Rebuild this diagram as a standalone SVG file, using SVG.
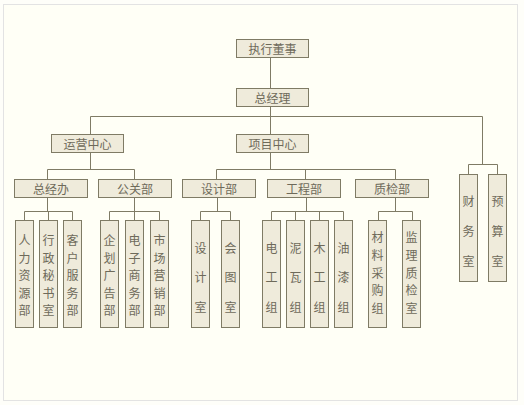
<svg xmlns="http://www.w3.org/2000/svg" width="524" height="405" viewBox="0 0 524 405">
<style>
.b{fill:#efebdb;stroke:#7f7b65;stroke-width:1}
.c{stroke:#7f7b65;stroke-width:1;fill:none}
text{font-family:"Noto Sans CJK SC","Noto Sans",sans-serif;font-size:12px;fill:#6e6a5a;text-anchor:middle;dominant-baseline:central}
</style>
<rect x="0" y="0" width="524" height="405" fill="#fefef9"/>
<rect x="3.5" y="4.5" width="514" height="396" fill="#fffff6" stroke="#e3e3e3"/>
<g id="connectors" class="c">
<path d="M270.5 57.5V88.5M270.5 106.5V134.5M90.5 116.5H482.5M90.5 116.5V134.5M482.5 116.5V164.5"/>
<path d="M90.5 152.5V169.5M47.5 169.5H134.5M47.5 169.5V179.5M134.5 169.5V179.5"/>
<path d="M270.5 152.5V169.5M216.5 169.5H395.5M216.5 169.5V179.5M305.5 169.5V179.5M395.5 169.5V179.5"/>
<path d="M47.5 197.5V211.5M24.5 211.5H72.5M24.5 211.5V220.5M48.5 211.5V220.5M72.5 211.5V220.5"/>
<path d="M134.5 197.5V211.5M109.5 211.5H159.5M109.5 211.5V220.5M134.5 211.5V220.5M159.5 211.5V220.5"/>
<path d="M217.5 197.5V211.5M200.5 211.5H230.5M200.5 211.5V220.5M230.5 211.5V220.5"/>
<path d="M306.5 197.5V211.5M271.5 211.5H343.5M271.5 211.5V220.5M295.5 211.5V220.5M319.5 211.5V220.5M343.5 211.5V220.5"/>
<path d="M395.5 197.5V211.5M378.5 211.5H412.5M378.5 211.5V220.5M412.5 211.5V220.5"/>
<path d="M468.5 164.5H497.5M468.5 164.5V174.5M497.5 164.5V174.5"/>
</g>
<g id="n1"><rect class="b" x="236.5" y="39.5" width="72" height="18"/><text x="272.5" y="48.5">执行董事</text></g>
<g id="n2"><rect class="b" x="236.5" y="88.5" width="72" height="18"/><text x="272.5" y="97.5">总经理</text></g>
<g id="n3"><rect class="b" x="51.5" y="134.5" width="72" height="18"/><text x="87.5" y="143.5">运营中心</text></g>
<g id="n4"><rect class="b" x="236.5" y="134.5" width="72" height="18"/><text x="272.5" y="143.5">项目中心</text></g>
<g id="n5"><rect class="b" x="14.5" y="179.5" width="73" height="18"/><text x="51" y="188.5">总经办</text></g>
<g id="n6"><rect class="b" x="98.5" y="179.5" width="73" height="18"/><text x="135" y="188.5">公关部</text></g>
<g id="n7"><rect class="b" x="182.5" y="179.5" width="73" height="18"/><text x="219" y="188.5">设计部</text></g>
<g id="n8"><rect class="b" x="267.5" y="179.5" width="73" height="18"/><text x="304" y="188.5">工程部</text></g>
<g id="n9"><rect class="b" x="355.5" y="179.5" width="73" height="18"/><text x="392" y="188.5">质检部</text></g>
<g id="n10"><rect class="b" x="15.5" y="220.5" width="18" height="107"/><text x="24.5"><tspan x="24.5" y="239">人</tspan><tspan x="24.5" y="256.5">力</tspan><tspan x="24.5" y="274">资</tspan><tspan x="24.5" y="291.5">源</tspan><tspan x="24.5" y="309">部</tspan></text></g>
<g id="n11"><rect class="b" x="39.5" y="220.5" width="18" height="107"/><text x="48.5"><tspan x="48.5" y="239">行</tspan><tspan x="48.5" y="256.5">政</tspan><tspan x="48.5" y="274">秘</tspan><tspan x="48.5" y="291.5">书</tspan><tspan x="48.5" y="309">室</tspan></text></g>
<g id="n12"><rect class="b" x="63.5" y="220.5" width="18" height="107"/><text x="72.5"><tspan x="72.5" y="239">客</tspan><tspan x="72.5" y="256.5">户</tspan><tspan x="72.5" y="274">服</tspan><tspan x="72.5" y="291.5">务</tspan><tspan x="72.5" y="309">部</tspan></text></g>
<g id="n13"><rect class="b" x="100.5" y="220.5" width="18" height="107"/><text x="109.5"><tspan x="109.5" y="239">企</tspan><tspan x="109.5" y="256.5">划</tspan><tspan x="109.5" y="274">广</tspan><tspan x="109.5" y="291.5">告</tspan><tspan x="109.5" y="309">部</tspan></text></g>
<g id="n14"><rect class="b" x="125.5" y="220.5" width="18" height="107"/><text x="134.5"><tspan x="134.5" y="239">电</tspan><tspan x="134.5" y="256.5">子</tspan><tspan x="134.5" y="274">商</tspan><tspan x="134.5" y="291.5">务</tspan><tspan x="134.5" y="309">部</tspan></text></g>
<g id="n15"><rect class="b" x="150.5" y="220.5" width="18" height="107"/><text x="159.5"><tspan x="159.5" y="239">市</tspan><tspan x="159.5" y="256.5">场</tspan><tspan x="159.5" y="274">营</tspan><tspan x="159.5" y="291.5">销</tspan><tspan x="159.5" y="309">部</tspan></text></g>
<g id="n16"><rect class="b" x="191.5" y="220.5" width="18" height="107"/><text x="200.5"><tspan x="200.5" y="246.5">设</tspan><tspan x="200.5" y="276">计</tspan><tspan x="200.5" y="305.5">室</tspan></text></g>
<g id="n17"><rect class="b" x="221.5" y="220.5" width="18" height="107"/><text x="230.5"><tspan x="230.5" y="246.5">会</tspan><tspan x="230.5" y="276">图</tspan><tspan x="230.5" y="305.5">室</tspan></text></g>
<g id="n18"><rect class="b" x="262.5" y="220.5" width="18" height="107"/><text x="271.5"><tspan x="271.5" y="246.5">电</tspan><tspan x="271.5" y="276">工</tspan><tspan x="271.5" y="305.5">组</tspan></text></g>
<g id="n19"><rect class="b" x="286.5" y="220.5" width="18" height="107"/><text x="295.5"><tspan x="295.5" y="246.5">泥</tspan><tspan x="295.5" y="276">瓦</tspan><tspan x="295.5" y="305.5">组</tspan></text></g>
<g id="n20"><rect class="b" x="310.5" y="220.5" width="18" height="107"/><text x="319.5"><tspan x="319.5" y="246.5">木</tspan><tspan x="319.5" y="276">工</tspan><tspan x="319.5" y="305.5">组</tspan></text></g>
<g id="n21"><rect class="b" x="334.5" y="220.5" width="18" height="107"/><text x="343.5"><tspan x="343.5" y="246.5">油</tspan><tspan x="343.5" y="276">漆</tspan><tspan x="343.5" y="305.5">组</tspan></text></g>
<g id="n22"><rect class="b" x="368.5" y="220.5" width="18" height="107"/><text x="377.5"><tspan x="377.5" y="236">材</tspan><tspan x="377.5" y="253.5">料</tspan><tspan x="377.5" y="271.5">采</tspan><tspan x="377.5" y="289">购</tspan><tspan x="377.5" y="306.5">组</tspan></text></g>
<g id="n23"><rect class="b" x="402.5" y="220.5" width="18" height="107"/><text x="411.5"><tspan x="411.5" y="236">监</tspan><tspan x="411.5" y="253.5">理</tspan><tspan x="411.5" y="271.5">质</tspan><tspan x="411.5" y="289">检</tspan><tspan x="411.5" y="306.5">室</tspan></text></g>
<g id="n24"><rect class="b" x="459.5" y="174.5" width="18" height="107"/><text x="468.5"><tspan x="468.5" y="200">财</tspan><tspan x="468.5" y="230">务</tspan><tspan x="468.5" y="260">室</tspan></text></g>
<g id="n25"><rect class="b" x="488.5" y="174.5" width="18" height="107"/><text x="497.5"><tspan x="497.5" y="200">预</tspan><tspan x="497.5" y="230">算</tspan><tspan x="497.5" y="260">室</tspan></text></g>
</svg>
